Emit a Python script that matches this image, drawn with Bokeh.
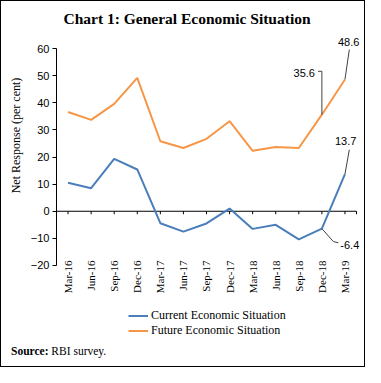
import math
from bokeh.plotting import figure
from bokeh.layouts import column
from bokeh.models import Range1d, FixedTicker, Label, Legend, LegendItem, Div
from bokeh.embed import file_html
from bokeh.resources import INLINE

categories = ["Mar-16", "Jun-16", "Sep-16", "Dec-16", "Mar-17", "Jun-17", "Sep-17",
              "Dec-17", "Mar-18", "Jun-18", "Sep-18", "Dec-18", "Mar-19"]
current = [10.5, 8.5, 19.3, 15.4, -4.4, -7.5, -4.5, 1.0, -6.5, -5.0, -10.4, -6.4, 13.7]
future = [36.6, 33.7, 39.6, 49.2, 25.8, 23.3, 26.7, 33.2, 22.3, 23.7, 23.3, 35.6, 48.6]
y_ticks = [-20, -10, 0, 10, 20, 30, 40, 50, 60]
series_names = ["Current Economic Situation", "Future Economic Situation"]
title_text = "Chart 1: General Economic Situation"

BLUE = "#4a7ebb"
ORANGE = "#f79646"
SERIF = "Liberation Serif"
SANS = "Liberation Sans"

xs = list(range(len(categories)))
x_lo, x_hi = -0.5, len(categories) - 0.5

W = 363
LEFT = 55
FRAME_H = 268
p = figure(width=W, height=299, output_backend="svg", toolbar_location=None,
           x_range=Range1d(x_lo, x_hi + 0.217), y_range=Range1d(-21.475, 77.33),
           min_border_left=LEFT, min_border_right=3, min_border_top=0, min_border_bottom=31)
p.outline_line_color = None
p.xgrid.visible = False
p.ygrid.visible = False

# y axis
ya = p.yaxis[0]
ya.ticker = FixedTicker(ticks=y_ticks)
ya.bounds = (y_ticks[0], y_ticks[-1])
ya.major_tick_out = 4
ya.major_tick_in = 0
ya.minor_tick_line_color = None
ya.axis_line_color = "black"
ya.major_tick_line_color = "black"
ya.major_label_text_font = SANS
ya.major_label_text_font_size = "11px"
ya.major_label_text_color = "black"
ya.major_label_standoff = 3
ya.axis_label = "Net Response (per cent)"
ya.axis_label_text_font = SERIF
ya.axis_label_text_font_style = "normal"
ya.axis_label_text_font_size = "12px"
ya.axis_label_text_color = "black"
ya.axis_label_standoff = 5

# x axis: labels only (axis line drawn at zero)
xa = p.xaxis[0]
xa.ticker = FixedTicker(ticks=xs)
xa.major_label_overrides = {i: c for i, c in enumerate(categories)}
xa.major_label_orientation = math.pi / 2
xa.axis_line_color = None
xa.major_tick_line_color = None
xa.minor_tick_line_color = None
xa.major_tick_out = 0
xa.major_tick_in = 0
xa.major_label_text_font = SERIF
xa.major_label_text_font_size = "11px"
xa.major_label_text_color = "black"
xa.major_label_standoff = -9

p.segment(x0=[x_lo], x1=[x_hi], y0=[0], y1=[0], line_color="black", line_width=1)
tick_x = xs + [x_hi]
p.segment(x0=tick_x, x1=tick_x, y0=[0] * len(tick_x), y1=[-1.1] * len(tick_x),
          line_color="black", line_width=1)

r1 = p.line(xs, current, line_color=BLUE, line_width=2)
r2 = p.line(xs, future, line_color=ORANGE, line_width=2)

# leader lines and value labels
LEAD = "#404040"
i_last = len(categories) - 1
i_prev = len(categories) - 2
p.segment(x0=[i_last], y0=[future[i_last]], x1=[i_last + 0.19], y1=[future[i_last] + 11],
          line_color=LEAD, line_width=1)
p.segment(x0=[i_prev, i_prev], y0=[future[i_prev], future[i_prev] + 16],
          x1=[i_prev, i_prev - 0.17], y1=[future[i_prev] + 16, future[i_prev] + 16],
          line_color=LEAD, line_width=1)
p.segment(x0=[i_last], y0=[current[i_last]], x1=[i_last + 0.19], y1=[current[i_last] + 9],
          line_color=LEAD, line_width=1)
p.segment(x0=[i_prev, i_prev + 0.5], y0=[current[i_prev], current[i_prev] - 4.8],
          x1=[i_prev + 0.5, i_prev + 0.71], y1=[current[i_prev] - 4.8, current[i_prev] - 5.2],
          line_color=LEAD, line_width=1)

lab_kw = dict(text_font=SANS, text_font_size="11px", text_color="black")
p.add_layout(Label(x=i_last + 0.16, y=future[i_last] + 12.5, text=f"{future[i_last]}",
                   text_align="center", text_baseline="bottom", **lab_kw))
p.add_layout(Label(x=i_prev - 0.3, y=future[i_prev] + 15.2, text=f"{future[i_prev]}",
                   text_align="right", text_baseline="middle", **lab_kw))
p.add_layout(Label(x=i_last + 0.03, y=current[i_last] + 10.6, text=f"{current[i_last]}",
                   text_align="center", text_baseline="bottom", **lab_kw))
p.add_layout(Label(x=i_prev + 0.8, y=current[i_prev] - 6.0, text=f"{current[i_prev]}",
                   text_align="left", text_baseline="middle", **lab_kw))

# title (screen units are relative to the frame's bottom-left corner)
p.add_layout(Label(x=W / 2 - LEFT + 4, y=FRAME_H - 17, x_units="screen", y_units="screen",
                   text=title_text, text_align="center", text_baseline="middle",
                   text_font=SERIF, text_font_style="bold", text_font_size="15.5px",
                   text_color="black"))

# legend panel (its frame is aligned with the main frame)
p2 = figure(width=W, height=42, output_backend="svg", toolbar_location=None,
            x_range=Range1d(-20, -19), y_range=Range1d(-20, -19),
            x_axis_type=None, y_axis_type=None,
            min_border_left=0, min_border_right=0, min_border_top=0, min_border_bottom=0)
p2.outline_line_color = None
p2.xgrid.visible = False
p2.ygrid.visible = False
k1 = p2.line(xs, current, line_color=BLUE, line_width=2)
k2 = p2.line(xs, future, line_color=ORANGE, line_width=2)
legend = Legend(items=[LegendItem(label=series_names[0], renderers=[k1]),
                       LegendItem(label=series_names[1], renderers=[k2])],
                location=(127 - LEFT, 4), orientation="vertical", glyph_width=20,
                glyph_height=15, label_height=15, label_standoff=3, spacing=0, padding=0,
                margin=0, border_line_alpha=0, background_fill_alpha=0,
                label_text_font=SERIF, label_text_font_size="12px", label_text_color="black")
p2.add_layout(legend)

source = Div(text=('<div style="padding:3px 0 0 10px; font-family:\'Liberation Serif\';'
                   ' font-size:11.5px; line-height:13px; color:black; white-space:nowrap;">'
                   '<b>Source:</b> RBI survey.</div>'),
             width=W, height=24, margin=0)

layout = column(p, p2, source, spacing=0, styles={"border": "1px solid black"})
open("out.html", "w").write(file_html(layout, INLINE))
